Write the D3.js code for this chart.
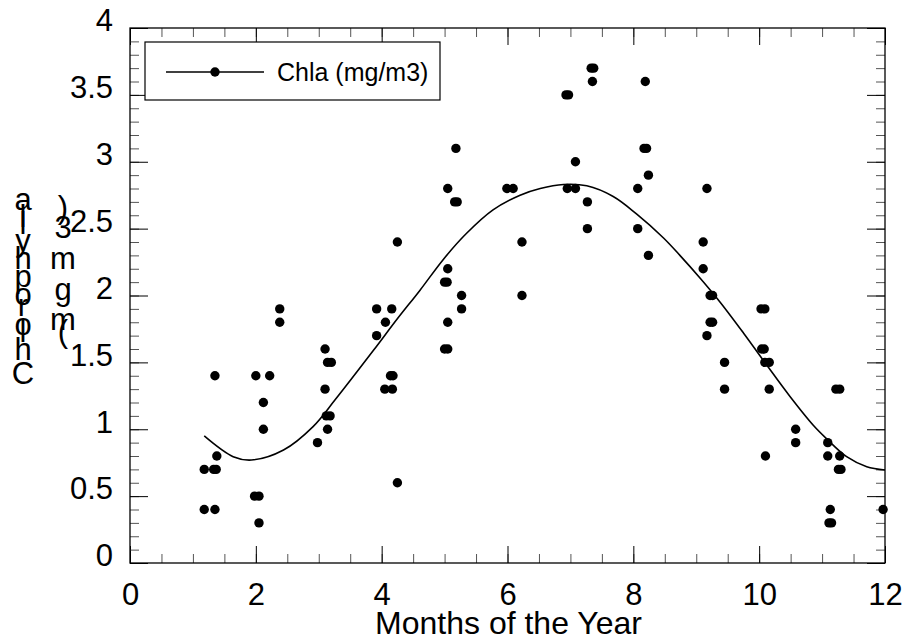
<!DOCTYPE html>
<html><head><meta charset="utf-8">
<script src="https://cdn.jsdelivr.net/npm/d3@7/dist/d3.min.js"></script>
<style>body{margin:0;background:#fff}svg{display:block}</style>
</head><body>
<svg id="c" width="906" height="641"></svg>
<script>
// Observed monthly chlorophyll a (mg/m3)
const obsMonth = [
 1.18,1.18,
 1.35,1.38,1.33,1.37,1.35,
 2.0,2.22,2.12,2.12,1.98,2.05,2.05,
 2.38,2.38,
 2.98,3.14,3.12,3.18,3.1,3.14,3.2,3.1,
 3.92,4.06,3.92,4.16,4.14,4.18,4.05,4.17,4.25,4.25,
 5.05,5.18,5.16,5.2,5.05,5.0,5.04,5.27,5.27,5.05,5.0,5.05,
 5.99,6.09,6.23,6.23,
 6.93,6.97,6.95,7.08,7.08,7.33,7.37,7.35,7.27,7.27,
 8.19,8.17,8.21,8.24,8.07,8.07,8.24,
 9.17,9.11,9.11,9.22,9.26,9.22,9.26,9.17,9.45,9.45,
 10.03,10.09,10.04,10.08,10.09,10.16,10.16,10.1,10.58,10.58,
 11.22,11.28,11.09,11.09,11.28,11.26,11.3,11.13,11.11,11.15,11.97];
const obsChla = [
 0.7,0.4,
 1.4,0.8,0.7,0.7,0.4,
 1.4,1.4,1.2,1.0,0.5,0.5,0.3,
 1.9,1.8,
 0.9,1.0,1.1,1.1,1.3,1.5,1.5,1.6,
 1.7,1.8,1.9,1.9,1.4,1.4,1.3,1.3,0.6,2.4,
 2.8,3.1,2.7,2.7,2.2,2.1,2.1,2.0,1.9,1.8,1.6,1.6,
 2.8,2.8,2.4,2.0,
 3.5,3.5,2.8,2.8,3.0,3.7,3.7,3.6,2.7,2.5,
 3.6,3.1,3.1,2.9,2.8,2.5,2.3,
 2.8,2.4,2.2,2.0,2.0,1.8,1.8,1.7,1.5,1.3,
 1.9,1.9,1.6,1.6,1.5,1.5,1.3,0.8,1.0,0.9,
 1.3,1.3,0.9,0.8,0.8,0.7,0.7,0.4,0.3,0.3,0.4];
// Fitted curve
const fitMonth = [1.18,1.64,1.93,2.44,2.91,3.26,3.87,4.24,4.61,4.98,5.35,5.77,6.2,6.52,6.89,7.26,7.68,8.05,8.48,8.74,9.08,9.38,9.75,10.12,10.49,10.86,11.07,11.39,11.71,12.0];
const fitChla  = [0.95,0.795,0.77,0.845,1.02,1.22,1.59,1.82,2.04,2.27,2.465,2.64,2.75,2.80,2.83,2.82,2.74,2.61,2.43,2.30,2.12,1.95,1.72,1.48,1.245,1.03,0.93,0.795,0.72,0.695];
const xTicks = [0,2,4,6,8,10,12];
const yTicks = [0,0.5,1,1.5,2,2.5,3,3.5,4];
const xTitle = "Months of the Year";
const yTitleLines = ["Chlorophyll a", "(mg m3)"];
const legendLabel = "Chla (mg/m3)";

const FONT = "'Liberation Sans', Arial, Helvetica, sans-serif";
const svg = d3.select("#c");
const L = 130, R = 885, T = 28, B = 563;
const x = d3.scaleLinear().domain([0,12]).range([L,R]);
const y = d3.scaleLinear().domain([0,4]).range([B,T]);

function styleAxis(g, col){
  g.select(".domain").remove();
  g.selectAll(".tick line").attr("stroke", col).attr("stroke-width",1);
}
const minorX = d3.range(0,12.001,0.5), minorY = d3.range(0,4.001,0.1).map(v=>+v.toFixed(2));
// bottom
svg.append("g").attr("transform",`translate(0,${B})`)
  .call(d3.axisBottom(x).tickValues(minorX).tickSize(-9).tickSizeOuter(0).tickFormat(""))
  .call(g=>styleAxis(g,"#555"));
const xb = svg.append("g").attr("transform",`translate(0,${B})`)
  .call(d3.axisBottom(x).tickValues(xTicks).tickSize(-17).tickSizeOuter(0).tickPadding(20).tickFormat(d3.format("d")))
  .call(g=>styleAxis(g,"#000"));
xb.selectAll("text").attr("font-family",FONT).attr("font-size",31).attr("fill","#000");
// top
svg.append("g").attr("transform",`translate(0,${T})`)
  .call(d3.axisTop(x).tickValues(minorX).tickSize(-9).tickSizeOuter(0).tickFormat(""))
  .call(g=>styleAxis(g,"#555"));
svg.append("g").attr("transform",`translate(0,${T})`)
  .call(d3.axisTop(x).tickValues(xTicks).tickSize(-17).tickSizeOuter(0).tickFormat(""))
  .call(g=>styleAxis(g,"#000"));
// left
svg.append("g").attr("transform",`translate(${L},0)`)
  .call(d3.axisLeft(y).tickValues(minorY).tickSize(-9).tickSizeOuter(0).tickFormat(""))
  .call(g=>styleAxis(g,"#555"));
const yl = svg.append("g").attr("transform",`translate(${L},0)`)
  .call(d3.axisLeft(y).tickValues(yTicks).tickSize(-18).tickSizeOuter(0).tickPadding(17).tickFormat(d=>String(d)))
  .call(g=>styleAxis(g,"#000"));
yl.selectAll("text").attr("font-family",FONT).attr("font-size",31).attr("fill","#000").attr("dy","0.35em").attr("transform","translate(0,-8)");
// right
svg.append("g").attr("transform",`translate(${R},0)`)
  .call(d3.axisRight(y).tickValues(minorY).tickSize(-9).tickSizeOuter(0).tickFormat(""))
  .call(g=>styleAxis(g,"#555"));
svg.append("g").attr("transform",`translate(${R},0)`)
  .call(d3.axisRight(y).tickValues(yTicks).tickSize(-18).tickSizeOuter(0).tickFormat(""))
  .call(g=>styleAxis(g,"#000"));
// frame
svg.append("rect").attr("x",L).attr("y",T).attr("width",R-L).attr("height",B-T)
  .attr("fill","none").attr("stroke","#000").attr("stroke-width",1.3);

// fitted curve
const pts = fitMonth.map((m,i)=>[m,fitChla[i]]);
svg.append("path").datum(pts)
  .attr("d", d3.line().x(d=>x(d[0])).y(d=>y(d[1])).curve(d3.curveCatmullRom.alpha(0.5)))
  .attr("fill","none").attr("stroke","#000").attr("stroke-width",1.6);

// observations
svg.append("g").selectAll("circle").data(obsMonth.map((m,i)=>[m,obsChla[i]])).join("circle")
  .attr("cx",d=>x(d[0])).attr("cy",d=>y(d[1])).attr("r",4.7).attr("fill","#000");

// legend
const lg = svg.append("g");
lg.append("rect").attr("x",145).attr("y",42).attr("width",295).attr("height",58)
  .attr("fill","#fff").attr("stroke","#000").attr("stroke-width",1.2);
lg.append("line").attr("x1",166).attr("x2",264).attr("y1",72).attr("y2",72).attr("stroke","#000").attr("stroke-width",1.6);
lg.append("circle").attr("cx",215).attr("cy",72).attr("r",4.7).attr("fill","#000");
lg.append("text").attr("x",277).attr("y",81).attr("font-family",FONT).attr("font-size",25).attr("fill","#000").text(legendLabel);

// x title
svg.append("text").attr("x",(L+R)/2+1).attr("y",634).attr("text-anchor","middle")
  .attr("font-family",FONT).attr("font-size",32).attr("fill","#000").text(xTitle);

// y title: upright characters stacked along the vertical axis
function stacked(str, cx, baseY, fs, spread){
  const g = svg.append("g").attr("font-family",FONT).attr("font-size",fs).attr("fill","#000");
  let cum = 0;
  for (const ch of str){
    const t = g.append("text").attr("x",cx).attr("text-anchor","middle").text(ch);
    const w = t.node().getComputedTextLength() || fs*0.3;
    t.attr("y", baseY - cum);
    cum += w*spread;
  }
}
stacked(yTitleLines[0], 23, 384, 31, 1.06);
stacked(yTitleLines[1], 63, 342, 31, 1.17);
</script>
</body></html>
